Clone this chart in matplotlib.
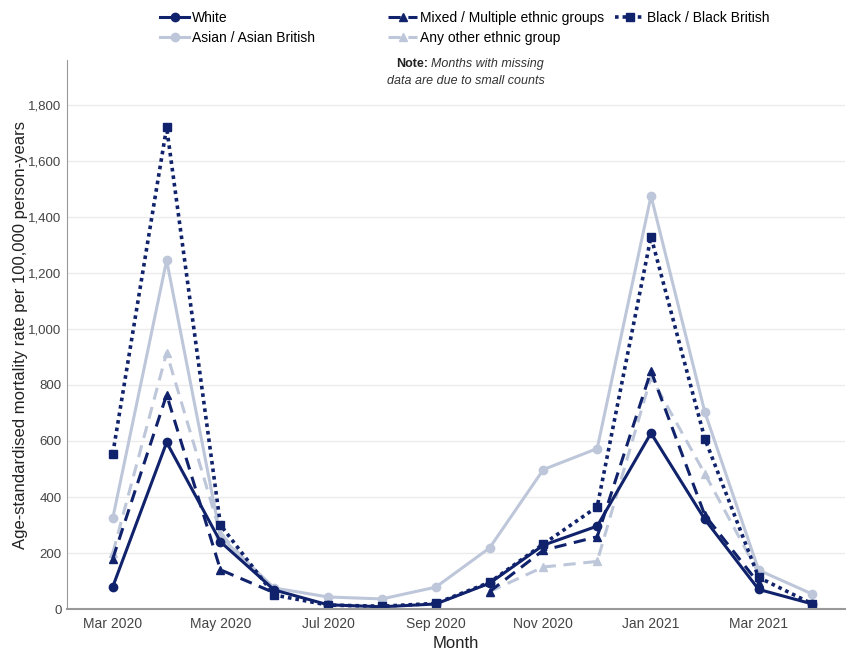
import numpy as np
import matplotlib
matplotlib.use("Agg")
from matplotlib import pyplot as plt

plt.rcParams['font.family'] = ['Liberation Sans', 'DejaVu Sans']

months = ["Mar 2020", "Apr 2020", "May 2020", "Jun 2020", "Jul 2020", "Aug 2020",
          "Sep 2020", "Oct 2020", "Nov 2020", "Dec 2020", "Jan 2021", "Feb 2021",
          "Mar 2021", "Apr 2021"]
tick_labels = ["Mar 2020", "May 2020", "Jul 2020", "Sep 2020", "Nov 2020", "Jan 2021", "Mar 2021"]

# None = missing month (small counts)
white = [80, 595, 240, 68, 15, 8, 18, 92, 228, 296, 628, 320, 70, 18]
mixed = [180, 765, 140, 58, None, None, None, 62, 210, 258, 850, 335, 92, None]
black = [555, 1720, 300, 50, 14, 10, 20, 95, 232, 365, 1330, 608, 113, 18]
asian = [325, 1245, 258, 75, 43, 36, 78, 218, 498, 573, 1475, 703, 139, 53]
other = [200, 915, 270, 62, None, None, None, 62, 150, 170, 828, 483, 128, None]

dark = '#10226b'
light = '#bec7da'

def arr(v):
    return np.array([np.nan if a is None else a for a in v], dtype=float)

x = np.arange(len(months))

fig = plt.figure(figsize=(8.49, 6.55), dpi=100)
ax = fig.add_axes([0.079, 0.0702, 0.916, 0.838])

lw = 2.2
ms = 6
l_other, = ax.plot(x, arr(other), color=light, lw=lw, ls=(0, (4, 2.5)), marker='^', ms=ms,
                   label="Any other ethnic group")
l_asian, = ax.plot(x, arr(asian), color=light, lw=lw, ls='-', marker='o', ms=ms,
                   label="Asian / Asian British")
l_black, = ax.plot(x, arr(black), color=dark, lw=2.6, ls=(0, (1, 1.1)), marker='s', ms=ms,
                   label="Black / Black British")
l_mixed, = ax.plot(x, arr(mixed), color=dark, lw=lw, ls=(0, (4, 2.5)), marker='^', ms=ms,
                   label="Mixed / Multiple ethnic groups")
l_white, = ax.plot(x, arr(white), color=dark, lw=lw, ls='-', marker='o', ms=ms,
                   label="White")

ax.set_xlim(-0.85, 13.6)
ax.set_ylim(0, 1960)
ax.set_yticks(np.arange(0, 1801, 200))
ax.set_yticklabels([f"{v:,}" for v in range(0, 1801, 200)])
ax.set_xticks([months.index(m) for m in tick_labels])
ax.set_xticklabels(tick_labels)
ax.tick_params(axis='x', length=0, labelsize=10, labelcolor='#444444', pad=6)
ax.tick_params(axis='y', length=0, labelsize=9.5, labelcolor='#444444', pad=4)
ax.yaxis.grid(True, color='#ebebeb', lw=1)
ax.set_axisbelow(True)
for s in ['top', 'right']:
    ax.spines[s].set_visible(False)
for s in ['left', 'bottom']:
    ax.spines[s].set_color('#999999')
ax.spines['bottom'].set_linewidth(1.5)

ax.set_xlabel("Month", fontsize=12, color='#222222', labelpad=3)
ax.set_ylabel("Age-standardised mortality rate per 100,000 person-years",
              fontsize=12, color='#222222', labelpad=0)

leg_kw = dict(loc='upper left', frameon=False, fontsize=10, handlelength=2.1,
              handletextpad=0.2, labelspacing=0.45, borderaxespad=0, borderpad=0)
top = 1 - 11 / 655
fig.legend([l_white, l_asian], ["White", "Asian / Asian British"],
           bbox_to_anchor=(160 / 849, top), **leg_kw)
fig.legend([l_mixed, l_other], ["Mixed / Multiple ethnic groups", "Any other ethnic group"],
           bbox_to_anchor=(388 / 849, top), **leg_kw)
fig.legend([l_black], ["Black / Black British"],
           bbox_to_anchor=(615 / 849, top), **leg_kw)

fig.text(428 / 849, 1 - 64 / 655, "Note:", fontsize=9, fontweight='bold',
         ha='right', va='center', color='#222222')
fig.text(431 / 849, 1 - 64 / 655, "Months with missing", fontsize=9, style='italic',
         ha='left', va='center', color='#333333')
fig.text(387 / 849, 1 - 81 / 655, "data are due to small counts", fontsize=9,
         style='italic', ha='left', va='center', color='#333333')

fig.savefig("out.png", dpi=100)
